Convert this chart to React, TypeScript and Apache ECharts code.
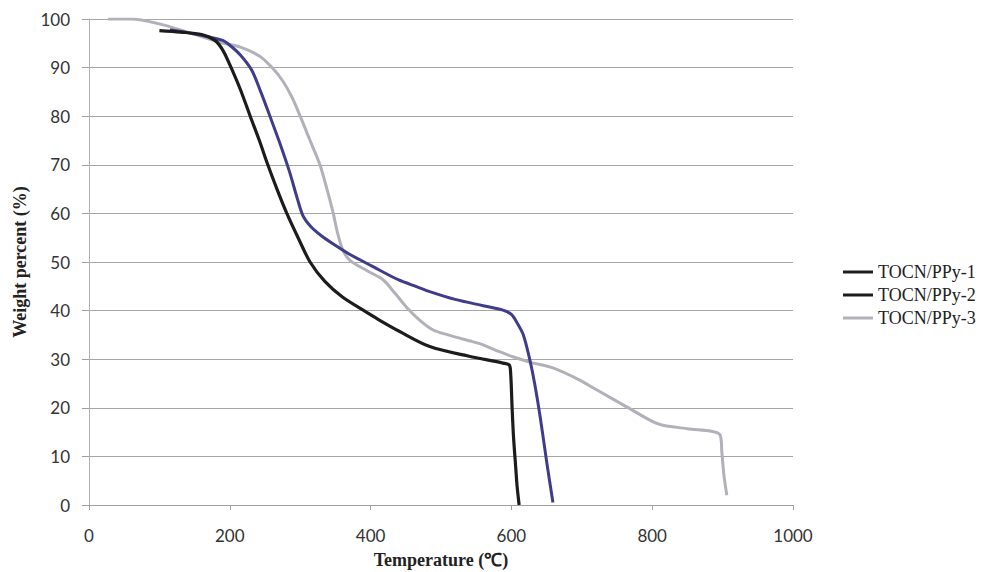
import React, { useEffect, useRef } from "react";
import * as echarts from "echarts";

const seriesNames = ["TOCN/PPy-1", "TOCN/PPy-2", "TOCN/PPy-3"];

const tocn1: [number, number][] = [
  [100, 97.6], [130, 97.3], [160, 96.8], [179, 95.6], [190, 93.6], [200, 90.6],
  [215, 85.5], [229, 80], [242, 75], [254, 70], [267, 65], [281, 60],
  [297, 55], [314, 50], [335, 46], [360, 42.8], [395, 39.6], [413, 38],
  [440, 35.8], [484, 32.6], [540, 30.6], [588, 29.2], [597, 28.8], [599, 27],
  [601, 20], [603, 14], [606, 8], [608, 4], [611, 0],
];

const tocn2: [number, number][] = [
  [115, 97.8], [140, 97.2], [170, 96.3], [190, 95.6], [200, 94.6], [215, 92.6],
  [231, 89.5], [244, 85], [257, 80], [271, 74.5], [285, 68.5], [296, 63],
  [304, 59.5], [315, 57.3], [330, 55.4], [347, 53.7], [370, 51.6], [395, 49.7],
  [413, 48.3], [440, 46.3], [466, 44.9], [484, 43.9], [520, 42.3], [560, 41],
  [588, 40.1], [600, 39.2], [608, 37.5], [617, 35], [626, 30], [633, 25],
  [641, 18], [650, 9], [659, 0.5],
];

const tocn3: [number, number][] = [
  [27, 100], [60, 100], [100, 99], [140, 97.3], [186, 95.2], [215, 94.2],
  [243, 92.3], [260, 90], [275, 87.3], [288, 84], [300, 80], [314, 75],
  [328, 70], [338, 65], [347, 60], [353, 56], [361, 52.3], [371, 50.3],
  [395, 48.2], [418, 46.3], [435, 43.5], [451, 40.7], [470, 38], [489, 36],
  [510, 35], [540, 33.8], [555, 33.2], [584, 31.5], [602, 30.5], [626, 29.4],
  [659, 28.2], [697, 25.7], [721, 23.7], [760, 20.5], [800, 17.2], [815, 16.4],
  [850, 15.7], [896, 14.5], [899, 10.7], [902, 6], [906, 2],
];

const xTitle = "Temperature (\u2103)";
const yTitle = "Weight percent (%)";

const colors = ["#1c1c1c", "#3f3c8c", "#b1b1ba"];
const legendColors = ["#1c1c1c", "#1c1c1c", "#b1b1ba"];

export default function App() {
  const ref = useRef<HTMLDivElement>(null);
  useEffect(() => {
    if (!ref.current) return;
    const chart = echarts.init(ref.current, undefined, { renderer: "svg" });
    const datasets = [tocn1, tocn2, tocn3];
    chart.setOption({
      animation: false,
      backgroundColor: "#ffffff",
      grid: { left: 89, right: 191, top: 19, bottom: 67, outerBoundsMode: "none", containLabel: false },
      legend: {
        orient: "vertical",
        left: 838,
        top: 257,
        icon: "rect",
        itemWidth: 30,
        itemHeight: 3,
        itemGap: 3,
        textStyle: {
          fontFamily: "Liberation Serif",
          fontSize: 18,
          color: "#222",
          lineHeight: 20,
        },
        data: seriesNames.map((n, i) => ({
          name: n,
          itemStyle: { color: legendColors[i] },
        })),
      },
      xAxis: {
        type: "value",
        min: 0,
        max: 1000,
        interval: 200,
        name: xTitle,
        nameLocation: "middle",
        nameGap: 46,
        nameTextStyle: {
          fontFamily: "Liberation Serif",
          fontWeight: "bold",
          fontSize: 18,
          color: "#222",
        },
        axisLine: { show: true, lineStyle: { color: "#a0a0a0", width: 1 } },
        axisTick: { show: true, length: 5, lineStyle: { color: "#a0a0a0" } },
        splitLine: { show: false },
        axisLabel: {
          margin: 22,
          fontFamily: "Lato",
          fontSize: 17,
          color: "#333",
          formatter: (v: number) => String(v),
        },
      },
      yAxis: {
        type: "value",
        min: 0,
        max: 100,
        interval: 10,
        name: yTitle,
        nameLocation: "middle",
        nameGap: 60,
        nameRotate: 90,
        nameTextStyle: {
          fontFamily: "Liberation Serif",
          fontWeight: "bold",
          fontSize: 18,
          color: "#222",
        },
        axisLine: { show: true, lineStyle: { color: "#b0b0b0", width: 1 } },
        axisTick: { show: true, length: 7, lineStyle: { color: "#a0a0a0" } },
        splitLine: { show: true, lineStyle: { color: "#a6a6a6", width: 1 } },
        axisLabel: {
          margin: 19,
          fontFamily: "Lato",
          fontSize: 17,
          color: "#333",
        },
      },
      series: datasets.map((d, i) => ({
        name: seriesNames[i],
        type: "line",
        data: d,
        symbol: "none",
        smooth: 0.3,
        color: colors[i],
        lineStyle: { color: colors[i], width: i === 0 ? 3.2 : 3 },
        z: 3 - i,
      })),
    });
    return () => chart.dispose();
  }, []);
  return <div ref={ref} style={{ width: 984, height: 572, position: "absolute", left: 0, top: 0 }} />;
}
